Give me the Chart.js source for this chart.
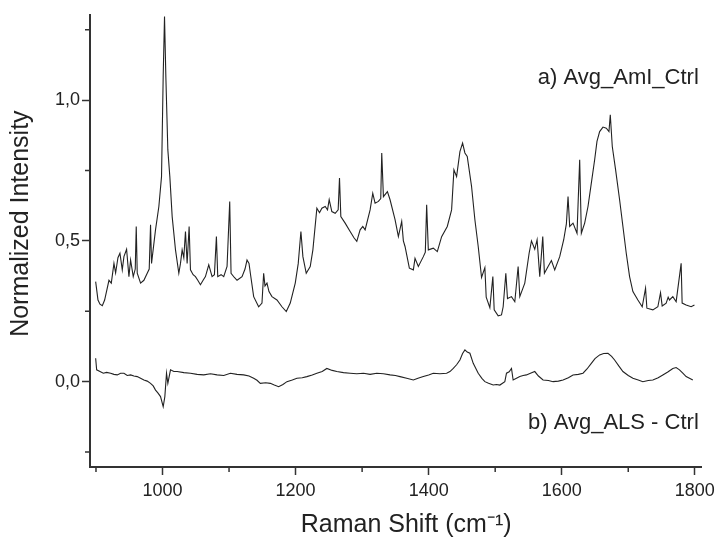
<!DOCTYPE html>
<html>
<head>
<meta charset="utf-8">
<script src="https://cdn.jsdelivr.net/npm/chart.js@4/dist/chart.umd.min.js"></script>
<style>
html,body{margin:0;padding:0;background:#fff;}
#wrap{width:720px;height:540px;position:relative;}
</style>
</head>
<body>
<div id="wrap"><canvas id="c" width="720" height="540"></canvas></div>
<script>
// Raman shift (cm-1) and intensity, spectrum a) Avg_AmI_Ctrl
const shiftA = [899.5,903,906,909.5,913,919.5,923,927,929.5,933,936,939.5,942,946,949.5,952,956,959,960.5,962,967,972,977,980,982,983.5,989.5,994.5,998.5,1001,1003,1005,1008,1011,1014.5,1019.5,1024.5,1027,1029.5,1032,1034.5,1037,1040,1042,1046,1049.5,1053,1057,1061,1064.5,1069.5,1074.5,1078,1081,1083,1088,1092,1097,1101,1103,1108,1112,1119.5,1124,1127,1130,1132,1137,1144.5,1149.5,1152,1154,1157,1160,1164.5,1172,1179.5,1186,1192,1199.5,1204,1208,1211,1216,1222,1226,1232,1236,1239.5,1244.5,1248,1250.5,1254.5,1259.5,1264,1266,1268,1274.5,1282,1288,1292,1297,1301,1304.5,1312,1316,1319.5,1324.5,1328,1329.5,1332,1338,1342,1349.5,1354.5,1359.5,1362,1364.5,1371,1377,1379.5,1384.5,1392,1395,1397,1399.5,1407,1413,1419.5,1428,1434.5,1438,1442,1447,1451,1454.5,1458,1464.5,1469.5,1474.5,1479.5,1484.5,1486.5,1492,1496.5,1498.5,1504.5,1509.5,1512,1516,1518.5,1524.5,1529.5,1534.5,1537,1544.5,1551,1554.5,1559.5,1563,1567,1571.5,1574,1579.5,1584.5,1589.5,1597,1603,1607,1609.5,1612,1617,1623,1627,1629.5,1634.5,1639.5,1644.5,1649.5,1653,1657,1662,1667,1671,1673,1676,1681,1687,1692,1697,1702,1707,1714.5,1721,1726,1728,1737,1744.5,1748.5,1751,1757,1760,1762,1767,1772,1779.5,1781,1787,1794.5,1799.5];
const intensityA = [0.355,0.29,0.275,0.27,0.29,0.36,0.35,0.42,0.386,0.44,0.456,0.397,0.444,0.47,0.373,0.432,0.373,0.40,0.551,0.385,0.35,0.36,0.385,0.40,0.557,0.42,0.54,0.622,0.728,1.084,1.297,1.084,0.823,0.728,0.586,0.468,0.385,0.42,0.468,0.44,0.533,0.42,0.551,0.397,0.38,0.373,0.36,0.344,0.36,0.373,0.415,0.373,0.38,0.515,0.373,0.38,0.373,0.409,0.64,0.385,0.37,0.36,0.373,0.40,0.432,0.42,0.385,0.302,0.266,0.279,0.385,0.34,0.35,0.32,0.302,0.29,0.266,0.249,0.279,0.35,0.42,0.533,0.444,0.385,0.409,0.468,0.616,0.60,0.616,0.622,0.61,0.646,0.604,0.598,0.61,0.723,0.586,0.563,0.533,0.51,0.498,0.539,0.551,0.539,0.61,0.669,0.634,0.64,0.65,0.812,0.657,0.675,0.646,0.575,0.515,0.569,0.50,0.48,0.403,0.397,0.438,0.409,0.444,0.46,0.628,0.468,0.474,0.462,0.515,0.551,0.61,0.752,0.728,0.817,0.847,0.812,0.80,0.693,0.575,0.48,0.37,0.405,0.30,0.263,0.373,0.255,0.234,0.237,0.266,0.385,0.295,0.302,0.284,0.409,0.302,0.35,0.456,0.50,0.47,0.504,0.373,0.515,0.385,0.409,0.43,0.397,0.444,0.504,0.56,0.657,0.551,0.563,0.527,0.788,0.527,0.563,0.622,0.705,0.788,0.853,0.888,0.904,0.90,0.888,0.948,0.835,0.752,0.646,0.551,0.456,0.373,0.32,0.29,0.266,0.332,0.261,0.255,0.266,0.316,0.269,0.279,0.30,0.29,0.302,0.284,0.42,0.279,0.272,0.266,0.272];

// spectrum b) Avg_ALS - Ctrl
const shiftB = [899.5,901,906,911,916,922,927,932,937,942,947,952,957,962,967,972,977,982,986,989.5,993,997,1001,1003.5,1006,1008,1012,1017,1022,1032,1042,1052,1062,1072,1082,1092,1102,1112,1122,1130,1137,1142,1147,1155,1162,1168,1174.5,1181,1187,1195,1202,1210,1217,1225,1232,1240,1247,1255,1262,1272,1282,1292,1302,1312,1322,1332,1342,1350,1357,1367,1377,1384,1392,1400,1407,1417,1427,1432,1437,1442,1447,1451,1454.5,1458,1462,1467,1474.5,1480,1484.5,1490,1497,1502,1507,1514.5,1517,1521,1524.5,1527,1532,1537,1542,1547,1553,1559.5,1565,1572,1580,1587,1595,1602,1610,1617,1625,1632,1638,1644.5,1650,1657,1663,1669.5,1675,1679.5,1686,1692,1700,1707,1715,1722,1730,1737,1745,1752,1760,1767,1772,1777,1782,1787,1792,1797];
const intensityB = [0.083,0.042,0.036,0.03,0.033,0.03,0.026,0.024,0.03,0.03,0.022,0.024,0.02,0.018,0.012,0.006,0.002,-0.006,-0.015,-0.03,-0.04,-0.053,-0.089,-0.053,0.03,-0.006,0.042,0.036,0.036,0.032,0.03,0.026,0.024,0.028,0.024,0.022,0.03,0.026,0.024,0.02,0.012,0.005,-0.006,-0.004,-0.006,-0.012,-0.018,-0.01,0,0.006,0.012,0.014,0.018,0.024,0.03,0.036,0.047,0.04,0.036,0.032,0.03,0.028,0.03,0.026,0.03,0.028,0.024,0.022,0.018,0.012,0.006,0.012,0.018,0.024,0.03,0.028,0.03,0.036,0.047,0.06,0.077,0.1,0.113,0.105,0.101,0.065,0.03,0.012,0,-0.006,-0.012,-0.01,-0.012,0,0.03,0.035,0.047,0.006,0.012,0.018,0.022,0.024,0.03,0.036,0.02,0.006,0.004,0,0.002,0.006,0.014,0.024,0.026,0.03,0.045,0.065,0.082,0.095,0.1,0.101,0.09,0.077,0.055,0.036,0.022,0.012,0.006,0,0.004,0.006,0.014,0.024,0.035,0.047,0.05,0.042,0.03,0.018,0.012,0.006];

const xTicksMinor = [900,1100,1300,1500,1700];
const yTicksMinor = [-0.25,0.25,0.75,1.25];
const labelA = 'a) Avg_AmI_Ctrl';
const labelB = 'b) Avg_ALS - Ctrl';

const FONT = "'Liberation Sans', Arial, sans-serif";
const AXIS = '#333333';
const LINE = '#222222';

const minorTicks = {
  id: 'minorTicks',
  afterDraw(chart) {
    const ctx = chart.ctx, xs = chart.scales.x, ys = chart.scales.y, ca = chart.chartArea;
    ctx.save();
    ctx.strokeStyle = AXIS; ctx.lineWidth = 1.5;
    ctx.beginPath();
    xTicksMinor.forEach(v => { const p = xs.getPixelForValue(v); ctx.moveTo(p, ca.bottom); ctx.lineTo(p, ca.bottom + 5); });
    yTicksMinor.forEach(v => { const p = ys.getPixelForValue(v); ctx.moveTo(ca.left, p); ctx.lineTo(ca.left - 5, p); });
    ctx.stroke();
    ctx.fillStyle = '#222';
    ctx.font = '22px ' + FONT;
    ctx.textAlign = 'right'; ctx.textBaseline = 'middle';
    ctx.fillText(labelA, xs.getPixelForValue(1806), ys.getPixelForValue(1.08));
    ctx.fillText(labelB, xs.getPixelForValue(1806), ys.getPixelForValue(-0.148));
    ctx.restore();
  }
};

new Chart(document.getElementById('c'), {
  type: 'line',
  data: {
    datasets: [
      { label: labelA, data: shiftA.map((x, i) => ({x, y: intensityA[i]})), borderColor: LINE, borderWidth: 1.1, pointRadius: 0, tension: 0, fill: false },
      { label: labelB, data: shiftB.map((x, i) => ({x, y: intensityB[i]})), borderColor: LINE, borderWidth: 1.1, pointRadius: 0, tension: 0, fill: false }
    ]
  },
  options: {
    responsive: false,
    animation: false,
    events: [],
    layout: { padding: { left: 0, right: 18, top: 15, bottom: 0 } },
    plugins: { legend: { display: false }, tooltip: { enabled: false } },
    scales: {
      x: {
        type: 'linear', min: 891, max: 1810,
        afterFit(s) { s.height = 73; },
        border: { display: true, color: AXIS, width: 2 },
        grid: { drawOnChartArea: false, drawTicks: true, tickLength: 8, tickColor: AXIS, tickWidth: 1.5 },
        ticks: { stepSize: 200, includeBounds: false, color: '#222', padding: 5, font: { family: FONT, size: 18 }, maxRotation: 0,
                 callback: v => String(v) },
        title: { display: true, text: '   Raman Shift (cm\u207B\u00B9)', color: '#222', font: { family: FONT, size: 25 }, padding: { top: 0, bottom: 0 } }
      },
      y: {
        type: 'linear', min: -0.303, max: 1.302,
        afterFit(s) { s.width = 90; },
        border: { display: true, color: AXIS, width: 2 },
        grid: { drawOnChartArea: false, drawTicks: true, tickLength: 8, tickColor: AXIS, tickWidth: 1.5 },
        ticks: { stepSize: 0.5, includeBounds: false, color: '#222', padding: 2, font: { family: FONT, size: 18 },
                 callback: v => v.toFixed(1).replace('.', ',') },
        title: { display: true, text: '     Normalized Intensity', color: '#222', font: { family: FONT, size: 25 }, padding: { top: 6, bottom: 0 } }
      }
    }
  },
  plugins: [minorTicks]
});
</script>
</body>
</html>
